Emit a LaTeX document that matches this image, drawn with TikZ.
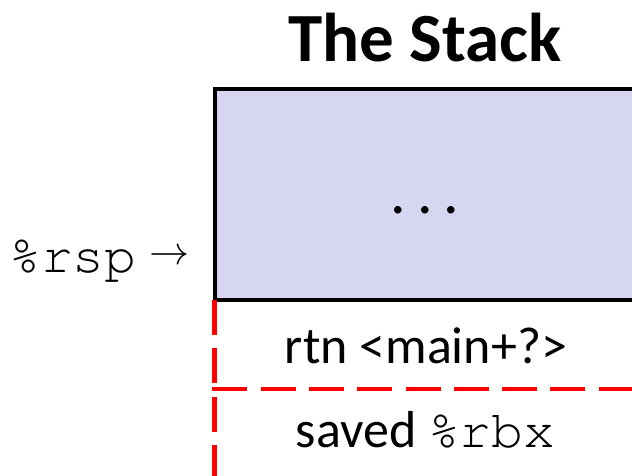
\documentclass[tikz,border=0pt]{standalone}
\usepackage{fix-cm}
\usepackage{fontspec}
\setmainfont{Carlito}
\newfontfamily\bodyfont{Carlito}
\newfontfamily\codefont{TeX Gyre Cursor}
\definecolor{stackblue}{RGB}{214,214,242}
\definecolor{frameRed}{RGB}{255,0,0}
\begin{document}
\begin{tikzpicture}[x=1pt,y=-1pt,
  titletext/.style={font=\bodyfont\bfseries\fontsize{69}{80}\selectfont, anchor=base, inner sep=0},
  celltext/.style={font=\bodyfont\fontsize{52}{60}\selectfont, anchor=base, inner sep=0},
  regtext/.style={font=\codefont\fontsize{53}{60}\selectfont, anchor=base west, inner sep=0},
  blockbox/.style={draw=black, line width=4pt, fill=stackblue, anchor=north west, inner sep=0,
    outer sep=0, minimum width=421.5pt, minimum height=210.5pt},
  frameline/.style={draw=frameRed, line width=4.5pt, dash pattern=on 35pt off 13.3pt}]
  \useasboundingbox (0,0) rectangle (632,476);
  \fill[white] (0,0) rectangle (632,476);

  % heading
  \node[titletext] (title) at (425,62) {The Stack};

  % top block of the stack
  \node[blockbox] (block) at (214.5,89.5) {};
  \node[font=\bodyfont\fontsize{62}{70}\selectfont, anchor=base, inner sep=0] (dots) at (425,213)
    {.\kern 10.6pt.\kern 10.6pt.};

  % current frame: dashed outline with its two slots
  \coordinate (frameTop) at (214.5,300);
  \coordinate (frameBot) at (214.5,480);
  \coordinate (midL) at (212.3,389);
  \coordinate (midR) at (640,389);
  \coordinate (botL) at (216.7,478);
  \coordinate (botR) at (640,478);
  \draw[frameline] (frameTop) -- (frameBot);
  \draw[frameline] (midL) -- (midR);
  \draw[frameline, draw opacity=0.3] (botL) -- (botR);
  \node[celltext] (rtn) at (426,363) {rtn <main+?>};
  \node[celltext] (saved) at (425.5,447) {saved {\codefont\fontsize{53}{60}\selectfont\%rbx}};

  % stack pointer label
  \node[regtext] (rsp) at (9,272) {\%rsp};
  \node[anchor=west, inner sep=0, font=\fontsize{40}{48}\selectfont] (arrow) at (149,257) {$\rightarrow$};
\end{tikzpicture}
\end{document}
